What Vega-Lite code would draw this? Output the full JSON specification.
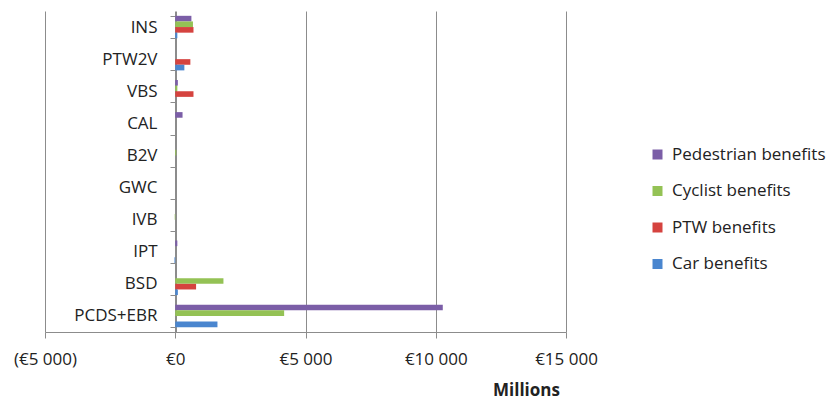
{
  "$schema": "https://vega.github.io/schema/vega-lite/v6.json",
  "autosize": "none",
  "padding": {"left": 45, "top": 11, "right": 265, "bottom": 68},
  "width": 521,
  "height": 321,
  "background": "white",
  "config": {
    "font": "Open Sans",
    "view": {"stroke": null}
  },
  "data": {
    "values": [
      {"measure": "INS", "series": "Pedestrian benefits", "order": 1, "value": 620},
      {"measure": "INS", "series": "Cyclist benefits", "order": 2, "value": 680},
      {"measure": "INS", "series": "PTW benefits", "order": 3, "value": 700},
      {"measure": "INS", "series": "Car benefits", "order": 4, "value": 80},
      {"measure": "PTW2V", "series": "Pedestrian benefits", "order": 1, "value": 0},
      {"measure": "PTW2V", "series": "Cyclist benefits", "order": 2, "value": 0},
      {"measure": "PTW2V", "series": "PTW benefits", "order": 3, "value": 580},
      {"measure": "PTW2V", "series": "Car benefits", "order": 4, "value": 350},
      {"measure": "VBS", "series": "Pedestrian benefits", "order": 1, "value": 100},
      {"measure": "VBS", "series": "Cyclist benefits", "order": 2, "value": 80},
      {"measure": "VBS", "series": "PTW benefits", "order": 3, "value": 700},
      {"measure": "VBS", "series": "Car benefits", "order": 4, "value": 0},
      {"measure": "CAL", "series": "Pedestrian benefits", "order": 1, "value": 280},
      {"measure": "CAL", "series": "Cyclist benefits", "order": 2, "value": 0},
      {"measure": "CAL", "series": "PTW benefits", "order": 3, "value": 0},
      {"measure": "CAL", "series": "Car benefits", "order": 4, "value": 0},
      {"measure": "B2V", "series": "Pedestrian benefits", "order": 1, "value": 0},
      {"measure": "B2V", "series": "Cyclist benefits", "order": 2, "value": 40},
      {"measure": "B2V", "series": "PTW benefits", "order": 3, "value": 0},
      {"measure": "B2V", "series": "Car benefits", "order": 4, "value": 0},
      {"measure": "GWC", "series": "Pedestrian benefits", "order": 1, "value": 0},
      {"measure": "GWC", "series": "Cyclist benefits", "order": 2, "value": 0},
      {"measure": "GWC", "series": "PTW benefits", "order": 3, "value": 0},
      {"measure": "GWC", "series": "Car benefits", "order": 4, "value": 0},
      {"measure": "IVB", "series": "Pedestrian benefits", "order": 1, "value": 0},
      {"measure": "IVB", "series": "Cyclist benefits", "order": 2, "value": -20},
      {"measure": "IVB", "series": "PTW benefits", "order": 3, "value": 0},
      {"measure": "IVB", "series": "Car benefits", "order": 4, "value": 0},
      {"measure": "IPT", "series": "Pedestrian benefits", "order": 1, "value": 80},
      {"measure": "IPT", "series": "Cyclist benefits", "order": 2, "value": 0},
      {"measure": "IPT", "series": "PTW benefits", "order": 3, "value": 0},
      {"measure": "IPT", "series": "Car benefits", "order": 4, "value": -30},
      {"measure": "BSD", "series": "Pedestrian benefits", "order": 1, "value": 0},
      {"measure": "BSD", "series": "Cyclist benefits", "order": 2, "value": 1850},
      {"measure": "BSD", "series": "PTW benefits", "order": 3, "value": 800},
      {"measure": "BSD", "series": "Car benefits", "order": 4, "value": 100},
      {"measure": "PCDS+EBR", "series": "Pedestrian benefits", "order": 1, "value": 10270},
      {"measure": "PCDS+EBR", "series": "Cyclist benefits", "order": 2, "value": 4180},
      {"measure": "PCDS+EBR", "series": "PTW benefits", "order": 3, "value": 0},
      {"measure": "PCDS+EBR", "series": "Car benefits", "order": 4, "value": 1620}
    ]
  },
  "mark": {"type": "bar", "orient": "horizontal"},
  "encoding": {
    "y": {
      "field": "measure",
      "type": "nominal",
      "sort": ["INS", "PTW2V", "VBS", "CAL", "B2V", "GWC", "IVB", "IPT", "BSD", "PCDS+EBR"],
      "scale": {"paddingInner": 0.3, "paddingOuter": 0.15},
      "axis": {
        "title": null,
        "offset": -131,
        "domainColor": "#8c8c8c",
        "tickColor": "#8c8c8c",
        "tickBand": "extent",
        "tickSize": 6,
        "labelFontSize": 17,
        "labelColor": "#222222",
        "labelPadding": 13,
        "grid": false
      }
    },
    "yOffset": {"field": "order", "type": "ordinal", "sort": "ascending"},
    "x": {
      "field": "value",
      "type": "quantitative",
      "scale": {"domain": [-5000, 15000], "nice": false},
      "axis": {
        "values": [-5000, 0, 5000, 10000, 15000],
        "labelExpr": "datum.value < 0 ? '(€' + replace(format(-datum.value, ','), ',', ' ') + ')' : '€' + replace(format(datum.value, ','), ',', ' ')",
        "domain": true,
        "domainColor": "#8c8c8c",
        "ticks": true,
        "tickColor": "#8c8c8c",
        "tickSize": 6,
        "grid": true,
        "gridColor": "#8c8c8c",
        "gridOpacity": 1,
        "labelFontSize": 17,
        "labelColor": "#222222",
        "labelPadding": 13,
        "labelFlush": false,
        "title": "Millions",
        "titleFontSize": 17,
        "titleFontWeight": "bold",
        "titleColor": "#222222",
        "titleX": 481,
        "titleAlign": "center",
        "titlePadding": 15
      }
    },
    "color": {
      "field": "series",
      "type": "nominal",
      "scale": {
        "domain": ["Pedestrian benefits", "Cyclist benefits", "PTW benefits", "Car benefits"],
        "range": ["#7b5ea7", "#94c255", "#d5433f", "#4a86cf"]
      },
      "legend": {
        "title": null,
        "orient": "none",
        "legendX": 604,
        "legendY": 135,
        "symbolType": "square",
        "symbolSize": 100,
        "symbolStrokeWidth": 0,
        "labelFontSize": 17,
        "labelColor": "#222222",
        "rowPadding": 18.5,
        "labelOffset": 6
      }
    }
  }
}
